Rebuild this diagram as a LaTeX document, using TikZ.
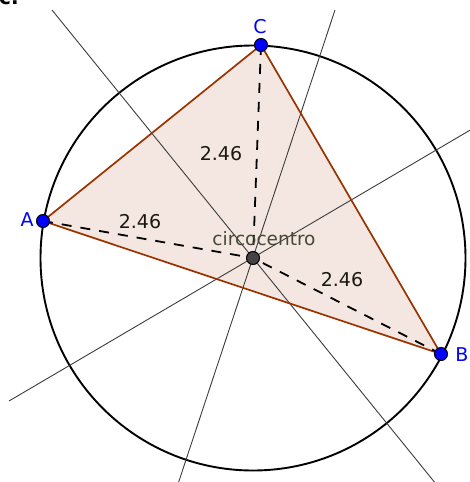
\documentclass[tikz,border=0pt]{standalone}
\usepackage{fontspec}
\setmainfont{DejaVu Sans}
\definecolor{edgebrown}{RGB}{153,51,0}
\definecolor{trifill}{RGB}{244,230,224}
\definecolor{ptblue}{RGB}{0,0,255}
\definecolor{ctrgray}{RGB}{68,68,68}
\definecolor{lbltext}{RGB}{70,72,55}
\definecolor{bisgray}{RGB}{60,60,60}
\definecolor{disttext}{RGB}{25,25,15}
\tikzset{
  pt/.style={circle,draw=black,line width=1pt,fill=ptblue,inner sep=0pt,minimum size=13pt},
  ctr/.style={circle,draw=black,line width=1pt,fill=ctrgray,inner sep=0pt,minimum size=13pt},
  ptlabel/.style={text=ptblue,font=\fontsize{19}{22}\selectfont,inner sep=0pt},
  dist/.style={text=disttext,font=\fontsize{19}{22}\selectfont,inner sep=0pt},
  bisector/.style={draw=bisgray,line width=0.9pt},
  radseg/.style={draw=black,line width=1.8pt,dash pattern=on 10pt off 9pt},
  edge/.style={draw=edgebrown,line width=1.7pt}
}
\begin{document}
\begin{tikzpicture}[x=1pt,y=-1pt]
\useasboundingbox (0,0) rectangle (470,482);
% clipped heading remnant
\node[anchor=base west,font=\fontsize{20}{24}\selectfont\bfseries,inner sep=0pt] (hd) at (-1,4) {c.};
% key coordinates
\coordinate (pA) at (43,221);
\coordinate (pB) at (441,354);
\coordinate (pC) at (261,45);
\coordinate (pO) at (253,258);
% triangle fill
\fill[trifill] (pA) -- (pB) -- (pC) -- cycle;
% circumcircle
\draw[black,line width=1.9pt] (pO) circle[radius=212.5pt];
% perpendicular bisectors
\coordinate (acTop) at (52,10);
\coordinate (acBot) at (436,484);
\coordinate (abTop) at (335,10);
\coordinate (abBot) at (178,484);
\coordinate (bcLeft) at (9,401);
\coordinate (bcRight) at (472,129);
\draw[bisector] (acTop) -- (acBot);
\draw[bisector] (abTop) -- (abBot);
\draw[bisector] (bcLeft) -- (bcRight);
% triangle edges
\draw[edge,line join=round] (pA) -- (pB) -- (pC) -- cycle;
% radii
\draw[radseg] (pA) -- (pO);
\draw[radseg] (pB) -- (pO);
\draw[radseg] (pC) -- (pO);
% points
\node[pt] (A) at (pA) {};
\node[pt] (B) at (pB) {};
\node[pt] (C) at (pC) {};
\node[ctr] (O) at (pO) {};
% labels
\node[ptlabel] (lA) at (27,220) {A};
\node[ptlabel] (lB) at (462,355) {B};
\node[ptlabel] (lC) at (260,27) {C};
\node[text=lbltext,font=\fontsize{18.5}{22}\selectfont,inner sep=0pt,anchor=base] (lO) at (264,245) {circocentro};
\node[dist] (dC) at (221,154) {2.46};
\node[dist] (dA) at (140,222) {2.46};
\node[dist] (dB) at (342,280) {2.46};
\end{tikzpicture}
\end{document}
